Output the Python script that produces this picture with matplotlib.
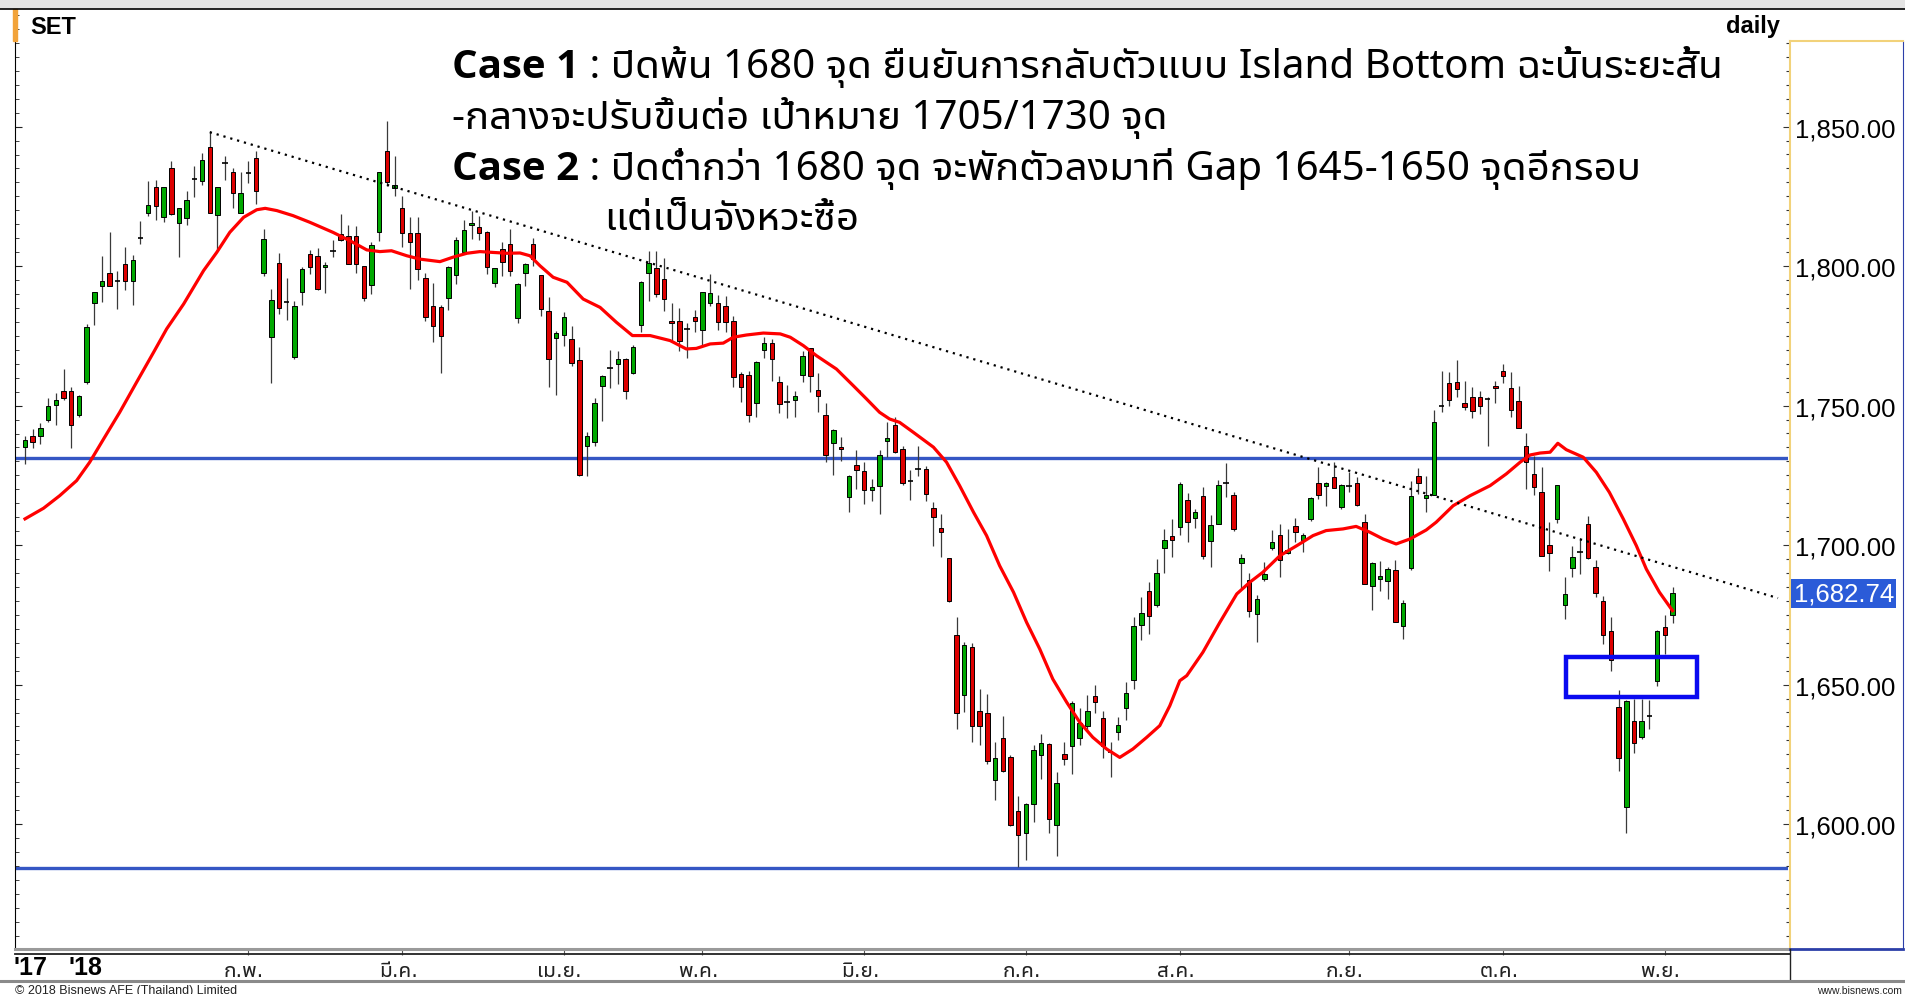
import matplotlib
matplotlib.use('Agg')
import matplotlib.pyplot as plt
import matplotlib.font_manager as fm
import matplotlib.transforms as mtransforms
from matplotlib.ft2font import FT2Font
from matplotlib.lines import Line2D
from matplotlib.patches import Rectangle
from matplotlib.ticker import MultipleLocator
import numpy as np

# SET index, daily candles (20 Dec 2017 - 2 Nov 2018)
opens = [1735.0, 1739.0, 1739.0, 1744.8, 1750.3, 1755.3, 1755.3, 1746.6, 1758.3, 1786.6,
         1792.7, 1797.7, 1794.8, 1800.7, 1794.6, 1809.9, 1818.9, 1828.2, 1817.7, 1835.0,
         1815.4, 1817.3, 1831.2, 1830.4, 1842.8, 1818.4, 1836.9, 1833.9, 1819.2, 1833.4,
         1838.6, 1797.7, 1774.7, 1801.0, 1787.0, 1767.3, 1790.6, 1804.3, 1803.7, 1799.5,
         1805.3, 1811.5, 1810.9, 1810.9, 1800.1, 1793.2, 1812.1, 1841.4, 1828.0, 1821.0,
         1811.7, 1811.7, 1795.6, 1785.8, 1785.2, 1788.4, 1796.9, 1805.1, 1814.7, 1813.9,
         1812.4, 1793.8, 1806.3, 1808.1, 1781.3, 1797.6, 1807.8, 1796.8, 1784.0, 1774.4,
         1775.3, 1773.8, 1766.3, 1735.6, 1736.8, 1756.9, 1763.4, 1764.8, 1766.7, 1761.7,
         1778.9, 1797.5, 1799.3, 1795.4, 1780.2, 1780.2, 1777.5, 1781.9, 1777.1, 1786.7,
         1786.7, 1785.6, 1780.2, 1761.3, 1760.9, 1750.9, 1770.0, 1772.4, 1758.3, 1751.4,
         1752.1, 1760.9, 1770.5, 1755.6, 1746.8, 1736.5, 1735.3, 1717.4, 1728.7, 1726.4,
         1719.9, 1721.3, 1737.2, 1743.2, 1734.4, 1722.9, 1727.3, 1727.3, 1713.3, 1706.0,
         1695.4, 1667.9, 1646.3, 1663.3, 1640.6, 1640.0, 1615.8, 1630.7, 1623.9, 1604.8,
         1596.8, 1607.2, 1624.9, 1628.7, 1599.6, 1625.1, 1628.1, 1630.8, 1635.3, 1646.0,
         1637.9, 1625.9, 1633.1, 1641.5, 1651.8, 1671.3, 1683.7, 1678.5, 1698.9, 1703.1,
         1706.4, 1716.3, 1709.6, 1717.5, 1701.4, 1707.6, 1722.1, 1718.0, 1693.6, 1687.6,
         1675.3, 1687.9, 1699.0, 1703.6, 1697.2, 1707.0, 1701.8, 1709.4, 1722.1, 1721.1,
         1724.3, 1713.5, 1721.3, 1722.1, 1708.4, 1685.5, 1687.9, 1687.0, 1691.1, 1671.1,
         1691.7, 1724.9, 1716.9, 1718.1, 1750.0, 1758.0, 1758.3, 1750.9, 1753.0, 1753.2,
         1752.4, 1757.2, 1762.5, 1756.3, 1751.8, 1735.6, 1725.5, 1718.9, 1700.2, 1709.4,
         1678.7, 1691.7, 1697.4, 1707.6, 1692.0, 1680.1, 1669.3, 1641.9, 1606.0, 1637.1,
         1631.1, 1638.9, 1651.2, 1670.5, 1675.1]
highs = [1739.2, 1741.6, 1743.7, 1752.6, 1754.5, 1763.1, 1756.5, 1753.8, 1779.2, 1790.8,
         1803.5, 1812.4, 1798.3, 1806.9, 1804.1, 1816.3, 1830.4, 1831.0, 1828.2, 1837.5,
         1821.0, 1826.8, 1836.0, 1840.5, 1848.5, 1828.4, 1839.3, 1835.1, 1833.6, 1837.5,
         1841.4, 1813.3, 1791.8, 1804.6, 1795.6, 1787.6, 1799.5, 1805.7, 1806.5, 1801.3,
         1809.5, 1818.6, 1814.7, 1814.5, 1800.1, 1808.7, 1833.6, 1852.1, 1839.6, 1825.0,
         1817.5, 1817.5, 1797.5, 1793.8, 1786.0, 1800.1, 1810.3, 1816.6, 1819.8, 1817.8,
         1812.7, 1799.3, 1808.5, 1813.3, 1793.8, 1801.1, 1810.2, 1796.8, 1788.8, 1776.6,
         1783.4, 1778.6, 1771.1, 1740.4, 1752.6, 1760.9, 1769.9, 1769.4, 1766.9, 1771.8,
         1794.8, 1805.5, 1805.3, 1802.8, 1786.8, 1784.9, 1779.6, 1784.3, 1790.6, 1797.2,
         1789.8, 1789.4, 1782.0, 1761.9, 1762.5, 1765.9, 1774.7, 1773.9, 1760.7, 1757.5,
         1755.3, 1769.7, 1770.5, 1761.6, 1750.9, 1741.6, 1738.6, 1725.1, 1734.2, 1729.7,
         1723.7, 1734.2, 1744.2, 1745.8, 1735.6, 1727.0, 1735.6, 1728.2, 1715.3, 1711.1,
         1695.4, 1674.1, 1665.1, 1664.8, 1648.6, 1646.6, 1629.3, 1638.9, 1624.9, 1610.2,
         1607.4, 1628.4, 1632.3, 1628.9, 1618.5, 1629.3, 1644.2, 1641.5, 1646.3, 1649.9,
         1640.6, 1629.5, 1638.5, 1650.8, 1674.1, 1681.3, 1686.9, 1695.0, 1705.8, 1709.4,
         1722.5, 1718.6, 1713.0, 1720.7, 1710.8, 1723.5, 1729.3, 1718.9, 1696.8, 1690.0,
         1682.2, 1694.1, 1705.4, 1707.6, 1705.8, 1709.6, 1704.2, 1717.4, 1728.1, 1722.7,
         1729.9, 1721.9, 1726.1, 1724.5, 1711.2, 1694.1, 1694.4, 1692.0, 1694.7, 1680.3,
         1723.1, 1727.6, 1724.9, 1748.4, 1762.5, 1762.2, 1766.5, 1758.9, 1756.5, 1755.4,
         1753.0, 1758.9, 1764.9, 1761.9, 1757.2, 1740.2, 1732.1, 1727.9, 1708.4, 1721.5,
         1688.5, 1699.6, 1702.5, 1710.3, 1694.7, 1681.9, 1674.1, 1648.1, 1644.6, 1644.8,
         1644.8, 1644.6, 1669.6, 1675.0, 1684.9]
lows = [1729.0, 1734.7, 1736.2, 1744.2, 1743.0, 1752.1, 1734.7, 1745.8, 1757.7, 1778.9,
        1787.0, 1792.7, 1784.6, 1791.5, 1786.2, 1808.1, 1818.1, 1816.6, 1815.9, 1818.3,
        1803.1, 1814.9, 1824.6, 1829.0, 1818.9, 1806.3, 1830.8, 1821.0, 1819.2, 1829.8,
        1822.2, 1796.5, 1758.1, 1782.8, 1780.8, 1766.7, 1786.2, 1797.1, 1791.5, 1790.3,
        1803.1, 1809.1, 1800.7, 1797.7, 1787.6, 1790.0, 1808.9, 1828.8, 1825.2, 1806.7,
        1791.8, 1795.0, 1780.4, 1772.9, 1761.7, 1784.2, 1793.6, 1804.6, 1809.7, 1809.5,
        1797.1, 1792.6, 1796.3, 1796.5, 1779.6, 1792.7, 1800.1, 1782.0, 1756.5, 1753.8,
        1771.5, 1764.3, 1724.9, 1724.6, 1735.6, 1744.6, 1756.2, 1757.7, 1752.3, 1761.3,
        1776.5, 1787.6, 1788.8, 1784.0, 1773.3, 1769.7, 1766.9, 1776.5, 1771.5, 1785.8,
        1777.1, 1776.3, 1756.5, 1751.2, 1744.2, 1745.8, 1766.9, 1758.9, 1747.3, 1745.6,
        1745.8, 1758.3, 1754.8, 1747.8, 1729.7, 1725.1, 1730.3, 1711.7, 1720.1, 1714.7,
        1715.9, 1711.1, 1731.7, 1733.0, 1721.5, 1716.3, 1724.9, 1715.9, 1699.8, 1695.6,
        1679.5, 1634.1, 1640.3, 1629.3, 1628.3, 1621.5, 1608.7, 1618.8, 1599.4, 1584.8,
        1587.1, 1600.8, 1616.1, 1596.8, 1588.4, 1621.3, 1617.9, 1628.3, 1633.5, 1639.7,
        1623.7, 1616.8, 1630.1, 1637.4, 1648.6, 1666.0, 1668.1, 1677.9, 1689.9, 1695.6,
        1703.6, 1701.0, 1706.0, 1695.0, 1692.0, 1707.6, 1717.1, 1705.2, 1684.5, 1674.1,
        1665.2, 1687.3, 1698.2, 1688.5, 1696.8, 1701.2, 1697.6, 1708.8, 1716.5, 1713.9,
        1720.5, 1713.0, 1718.9, 1714.1, 1686.1, 1676.7, 1683.7, 1680.7, 1672.3, 1666.3,
        1691.2, 1718.3, 1711.7, 1718.1, 1747.6, 1749.7, 1753.0, 1748.5, 1745.4, 1747.0,
        1735.6, 1750.9, 1758.0, 1745.8, 1742.0, 1720.1, 1718.1, 1696.2, 1690.8, 1707.8,
        1673.5, 1688.5, 1689.7, 1695.0, 1681.3, 1664.6, 1655.0, 1619.0, 1596.8, 1625.5,
        1630.5, 1634.1, 1649.4, 1661.0, 1672.0]
closes = [1737.8, 1737.0, 1741.8, 1749.7, 1752.0, 1752.9, 1743.1, 1753.3, 1778.3, 1790.6,
          1794.6, 1792.7, 1794.8, 1794.6, 1802.3, 1809.9, 1822.0, 1821.6, 1828.2, 1818.6,
          1820.8, 1823.7, 1831.2, 1838.1, 1818.9, 1828.2, 1836.9, 1826.2, 1826.2, 1833.4,
          1827.0, 1809.7, 1787.8, 1785.0, 1787.0, 1785.8, 1798.9, 1799.8, 1791.8, 1800.4,
          1805.3, 1809.5, 1800.7, 1800.7, 1788.4, 1807.5, 1833.6, 1830.0, 1829.2, 1811.7,
          1808.5, 1798.9, 1781.6, 1778.6, 1775.0, 1799.8, 1809.3, 1812.9, 1815.5, 1811.8,
          1799.8, 1799.3, 1801.3, 1798.1, 1793.6, 1800.6, 1802.5, 1784.8, 1766.7, 1776.0,
          1781.6, 1765.1, 1725.1, 1739.2, 1750.9, 1760.7, 1763.4, 1766.7, 1755.3, 1770.9,
          1794.4, 1801.0, 1790.0, 1788.2, 1779.5, 1773.3, 1777.5, 1780.2, 1790.6, 1790.2,
          1779.9, 1779.9, 1760.1, 1756.8, 1746.6, 1765.5, 1772.4, 1766.7, 1750.6, 1751.4,
          1753.5, 1767.9, 1760.5, 1753.5, 1732.3, 1741.3, 1734.4, 1724.9, 1727.0, 1719.7,
          1721.0, 1732.4, 1738.3, 1733.2, 1722.1, 1722.9, 1727.3, 1718.3, 1709.9, 1704.8,
          1679.8, 1640.0, 1664.2, 1635.0, 1635.3, 1622.7, 1623.7, 1619.1, 1599.8, 1596.2,
          1607.2, 1626.5, 1628.9, 1601.8, 1614.9, 1623.3, 1643.4, 1636.4, 1640.6, 1643.9,
          1627.9, 1625.9, 1635.6, 1647.0, 1671.1, 1675.5, 1674.5, 1689.9, 1701.8, 1701.8,
          1721.9, 1708.4, 1712.0, 1696.2, 1707.2, 1721.5, 1722.1, 1705.8, 1695.3, 1676.3,
          1680.7, 1689.6, 1701.0, 1694.8, 1698.2, 1704.8, 1703.6, 1716.8, 1718.1, 1722.1,
          1720.5, 1721.5, 1721.3, 1714.4, 1686.1, 1693.6, 1689.1, 1691.4, 1672.3, 1679.1,
          1717.7, 1722.1, 1718.1, 1744.0, 1750.0, 1752.1, 1755.9, 1749.4, 1748.0, 1749.7,
          1752.4, 1756.3, 1760.5, 1748.4, 1742.0, 1729.7, 1720.7, 1696.2, 1697.1, 1721.5,
          1682.5, 1695.9, 1697.4, 1695.3, 1682.8, 1667.9, 1658.8, 1623.7, 1644.2, 1629.0,
          1636.8, 1638.9, 1669.1, 1667.9, 1682.74]

# red moving-average line, read at these candle positions
ma_x = [0, 2.4, 4.5, 6.7, 8.4, 10.2, 12.3, 14.5, 16.7, 18.4, 20.6, 23.2, 24.9, 26.6, 28.4,
        30.1, 31.2, 32.7, 34.8, 37.0, 40.0, 42.2, 44.4, 46.1, 47.6, 49.6, 51.3, 53.9, 55.6,
        57.4, 59.1, 60.8, 62.6, 64.3, 65.6, 66.9, 68.6, 70.4, 72.5, 74.7, 76.8, 78.9, 81.2,
        83.8, 85.9, 87.2, 89.0, 90.7, 92.0, 93.7, 95.9, 98.1, 99.4, 101.1, 102.8, 105.4,
        107.6, 109.3, 111.0, 112.3, 113.6, 115.4, 118.0, 119.7, 121.4, 123.2, 124.9, 126.6,
        128.4, 130.1, 131.8, 133.5, 135.3, 137.0, 138.7, 140.5, 142.2, 143.9, 145.7, 147.4,
        148.7, 150.0, 150.9, 153.0, 155.2, 157.4, 159.1, 160.8, 163.0, 165.2, 167.3, 169.0,
        171.2, 172.9, 174.7, 176.4, 178.1, 179.9, 182.0, 183.3, 185.5, 187.7, 190.3, 192.4,
        194.2, 195.5, 196.8, 198.1, 199.1, 200.2, 202.4, 204.1, 205.8, 207.6, 209.3, 210.6,
        212.3, 214.0]
ma_val = [1709.4, 1713.2, 1717.7, 1723.1, 1729.7, 1738.0, 1747.6, 1758.4, 1769.1, 1777.5,
          1786.4, 1798.4, 1804.9, 1812.1, 1817.5, 1820.2, 1820.7, 1819.9, 1818.1, 1815.7,
          1812.1, 1809.1, 1805.8, 1805.2, 1805.5, 1803.7, 1802.5, 1801.6, 1803.2, 1804.6,
          1805.2, 1804.9, 1804.6, 1804.7, 1803.7, 1800.1, 1796.0, 1794.2, 1788.2, 1785.2,
          1779.9, 1775.1, 1775.1, 1773.3, 1770.3, 1770.5, 1772.1, 1772.4, 1774.5, 1775.3,
          1776.0, 1775.7, 1774.5, 1771.5, 1767.9, 1763.1, 1757.1, 1752.4, 1747.6, 1745.2,
          1744.0, 1740.4, 1735.1, 1729.7, 1721.3, 1711.8, 1703.4, 1692.6, 1683.1, 1672.3,
          1662.8, 1652.0, 1643.7, 1636.5, 1631.1, 1626.9, 1623.9, 1626.9, 1631.1, 1635.3,
          1642.4, 1651.4, 1653.2, 1661.6, 1672.3, 1682.5, 1686.7, 1690.3, 1696.2, 1699.8,
          1703.4, 1705.2, 1705.8, 1706.7, 1704.6, 1702.2, 1700.4, 1702.2, 1705.4, 1708.2,
          1714.1, 1717.7, 1721.3, 1725.5, 1729.7, 1732.3, 1733.0, 1733.3, 1736.5, 1734.2,
          1731.5, 1726.1, 1718.9, 1709.4, 1699.8, 1691.4, 1683.1, 1676.5]

trend_x = [24.0, 227.7]
trend_y = [1848.0, 1681.0]
support_levels = [1731.2, 1584.4]
gap_x = [200.2, 217.2]
gap_y = [1645.6, 1659.9]
last_close = closes[-1]

month_idx = [29, 49, 70, 88, 109, 130, 150, 172, 192, 213]
month_labels = ['ก.พ.', 'มี.ค.', 'เม.ย.', 'พ.ค.', 'มิ.ย.', 'ก.ค.', 'ส.ค.', 'ก.ย.', 'ต.ค.', 'พ.ย.']
year_idx = [0.7, 7.9]
year_labels = ["'17", "'18"]
price_ticks = [1600, 1650, 1700, 1750, 1800, 1850]

case1_head = 'Case 1'
case1_text = ' : ปิดพ้น 1680 จุด ยืนยันการกลับตัวแบบ Island Bottom ฉะนั้นระยะสั้น'
case1_more = '-กลางจะปรับขึ้นต่อ เป้าหมาย 1705/1730 จุด'
case2_head = 'Case 2'
case2_text = ' : ปิดต่ำกว่า 1680 จุด จะพักตัวลงมาที่ Gap 1645-1650 จุดอีกรอบ'
case2_more = 'แต่เป็นจังหวะซื้อ'


# find a font that can draw Thai
def thai_fonts():
    names = []
    for entry in fm.fontManager.ttflist:
        try:
            cmap = FT2Font(entry.fname).get_charmap()
        except Exception:
            continue
        if 0x0E1B in cmap and 0x0E48 in cmap and entry.name not in names:
            names.append(entry.name)
    pref = ['Noto Sans Thai UI', 'Noto Sans Thai', 'Tahoma', 'Leelawadee UI', 'Loma', 'Garuda']
    names.sort(key=lambda n: pref.index(n) if n in pref else len(pref))
    return names


found = thai_fonts()
THAI = found[0] if found else 'DejaVu Sans'
MIXED = ['Noto Sans', THAI, 'DejaVu Sans']
plt.rcParams['font.family'] = ['Liberation Sans', 'DejaVu Sans']

W, H = 1905, 995
fig = plt.figure(figsize=(W / 100, H / 100), dpi=100)


def fx(px):
    return px / W


def fy(py):
    return 1 - py / H


# 1850 sits 127.6 px from the top, 2.79 px per index point
def val_at(py):
    return 1850 - (py - 127.6) / 2.79


TOP, BOT = 10, 950
ax = fig.add_axes([fx(15), fy(BOT), fx(1788) - fx(15), fy(TOP) - fy(BOT)])
ax.set_xlim(-1.3, 229.0)
ax.set_ylim(val_at(BOT), val_at(TOP))

x = np.arange(len(closes))
o = np.array(opens)
c = np.array(closes)
hi = np.array(highs)
lo = np.array(lows)
up = c > o
dn = c < o
flat = c == o

ax.vlines(x, lo, hi, color='#3a3a3a', linewidth=0.9, zorder=2)
ax.bar(x[up], (c - o)[up], bottom=o[up], width=0.58, color='#00A800',
       edgecolor='black', linewidth=0.7, zorder=3)
ax.bar(x[dn], (o - c)[dn], bottom=c[dn], width=0.58, color='#DD0000',
       edgecolor='black', linewidth=0.7, zorder=3)
ax.hlines(c[flat], x[flat] - 0.35, x[flat] + 0.35, color='black', linewidth=1.2, zorder=3)

for lvl in support_levels:
    ax.axhline(lvl, color='#3556C4', linewidth=2.4, zorder=1.5)

ax.plot(ma_x, ma_val, color='#FF0000', linewidth=2.3, zorder=4)
ax.plot(trend_x, trend_y, color='black', linewidth=1.6, linestyle=(0, (1, 2.2)), zorder=4)
ax.add_patch(Rectangle((gap_x[0], gap_y[0]), gap_x[1] - gap_x[0], gap_y[1] - gap_y[0],
                       fill=False, edgecolor='#0A0AF0', linewidth=3.2, zorder=5))

# axes styling
for s in ['top', 'right']:
    ax.spines[s].set_visible(False)
ax.spines['left'].set_color('black')
ax.spines['bottom'].set_color('#9a9a9a')
ax.spines['bottom'].set_linewidth(2.2)
ax.yaxis.set_major_locator(MultipleLocator(50))
ax.yaxis.set_minor_locator(MultipleLocator(5))
ax.tick_params(axis='y', which='both', direction='in', labelleft=False, color='#222222')
ax.tick_params(axis='y', which='major', length=5)
ax.tick_params(axis='y', which='minor', length=3)

ax.set_xticks(month_idx, month_labels)
ax.tick_params(axis='x', direction='out', length=4, color='#555555', labelsize=15, pad=4)
shift = mtransforms.ScaledTranslation(-3 / 72, 0, fig.dpi_scale_trans)
for lbl in ax.get_xticklabels():
    lbl.set_family([THAI, 'DejaVu Sans'])
    lbl.set_color('#222222')
    lbl.set_transform(lbl.get_transform() + shift)
for xi, lab in zip(year_idx, year_labels):
    ax.text(xi, (BOT - 968) / (BOT - TOP), lab, transform=ax.get_xaxis_transform(),
            ha='center', va='center', fontsize=18, fontweight='bold', clip_on=False)

# price panel on the right
ax2 = fig.add_axes([fx(1789.5), fy(BOT), fx(1903) - fx(1789.5), fy(42) - fy(BOT)])
ax2.set_xlim(0, 1)
ax2.set_ylim(val_at(BOT), val_at(42))
ax2.set_xticks([])
ax2.set_yticks(price_ticks, [f'{v:,.2f}' for v in price_ticks])
ax2.yaxis.set_minor_locator(MultipleLocator(5))
ax2.tick_params(axis='y', which='major', direction='out', length=5, width=0.8,
                color='#333333', pad=-81, labelsize=18.5)
ax2.tick_params(axis='y', which='minor', direction='out', length=3, width=0.8, color='#333333')
ax2.spines['left'].set_color('#F2D27A')
ax2.spines['top'].set_color('#F2D27A')
ax2.spines['left'].set_linewidth(1.5)
ax2.spines['top'].set_linewidth(1.5)
ax2.spines['right'].set_color('#2C3FA8')
ax2.spines['bottom'].set_color('#2C3FA8')
ax2.spines['bottom'].set_linewidth(2)
ax2.text(0.92, last_close, f'{last_close:,.2f}', transform=ax2.get_yaxis_transform(),
         ha='right', va='center', color='white', fontsize=18.5,
         bbox=dict(boxstyle='square,pad=0.1', fc='#2B5BD8', ec='none'))

# header / footer frame
fig.add_artist(Rectangle((0, fy(9)), 1, 9 / H, color='#E4E4E4', transform=fig.transFigure))
fig.add_artist(Line2D([0, 1], [fy(9.5), fy(9.5)], color='black', linewidth=1.2,
                      transform=fig.transFigure))
fig.add_artist(Rectangle((fx(13), fy(42)), 4 / W, 32 / H, color='#F2A33A',
                         transform=fig.transFigure))
fig.add_artist(Line2D([fx(15), fx(1790)], [fy(955), fy(955)], color='#222222', linewidth=1.3,
                      transform=fig.transFigure))
fig.add_artist(Line2D([fx(1790), fx(1790)], [fy(950), fy(982)], color='#222222', linewidth=1.0,
                      transform=fig.transFigure))
fig.add_artist(Line2D([0, 1], [fy(982), fy(982)], color='#8a8a8a', linewidth=2.2,
                      transform=fig.transFigure))
fig.text(fx(30), fy(27), 'SET', fontsize=17, fontweight='bold', va='center', ha='left')
fig.text(fx(1780), fy(27), 'daily', fontsize=17, fontweight='bold', va='center', ha='right')
fig.text(fx(15), fy(985), '\u00a9 2018 Bisnews AFE (Thailand) Limited', fontsize=9,
         va='top', ha='left', color='#222222')
fig.text(fx(1902), fy(986), 'www.bisnews.com', fontsize=7.5, va='top', ha='right',
         color='#222222')

# commentary
FS = 29
HEAD = ['Open Sans', 'DejaVu Sans']
renderer = fig.canvas.get_renderer()
lines = [(case1_head, case1_text, 78), (case2_head, case2_text, 180)]
for head, body, base in lines:
    t = fig.text(fx(452), fy(base), head, fontsize=FS, fontweight='bold',
                 family=HEAD, va='baseline', ha='left')
    wpx = t.get_window_extent(renderer).width
    fig.text(fx(452 + wpx), fy(base), body, fontsize=FS, family=MIXED,
             va='baseline', ha='left')
fig.text(fx(452), fy(129), case1_more, fontsize=FS, family=MIXED, va='baseline', ha='left')
fig.text(fx(604), fy(230), case2_more, fontsize=FS, family=MIXED, va='baseline', ha='left')

fig.savefig('out.png', dpi=100)
